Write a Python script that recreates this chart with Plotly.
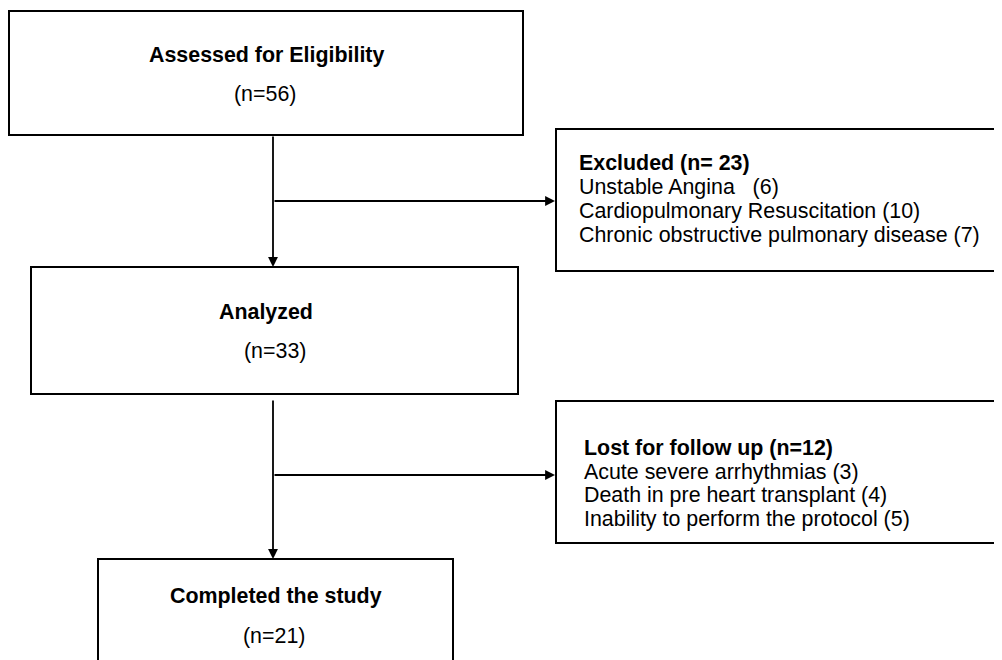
import plotly.graph_objects as go

# ---- Data ----
stages = ["Assessed for Eligibility", "Analyzed", "Completed the study"]
stage_n = [56, 33, 21]
excl_title = "Excluded (n= 23)"
excl_reasons = ["Unstable Angina", "Cardiopulmonary Resuscitation", "Chronic obstructive pulmonary disease"]
excl_counts = [6, 10, 7]
lost_title = "Lost for follow up (n=12)"
lost_reasons = ["Acute severe arrhythmias", "Death in pre heart transplant", "Inability to perform the protocol"]
lost_counts = [3, 4, 5]

# ---- Layout (page pixel coordinates) ----
main_boxes = [(9, 523, 11, 135), (31, 518, 267, 394), (98, 453, 559, 690)]
side_boxes = [(556, 1000, 129, 271), (556, 1000, 401, 543)]
FONT = "Liberation Sans, Arial, Helvetica, sans-serif"
FS = 21.4

fig = go.Figure()
shapes = []
for (x0, x1, y0, y1) in main_boxes + side_boxes:
    shapes.append(dict(type="rect", x0=x0, x1=x1, y0=y0, y1=y1, xref="x", yref="y",
                       line=dict(color="black", width=2), fillcolor="rgba(0,0,0,0)", layer="above"))

annotations = []
# connectors (tail -> head)
arrows = [((273, 135), (273, 267)), ((273, 201), (555, 201)),
          ((273, 399), (273, 559)), ((273, 475), (555, 475))]
for (sx, sy), (ex, ey) in arrows:
    annotations.append(dict(x=ex, y=ey, ax=sx, ay=sy, xref="x", yref="y",
                            axref="x", ayref="y", showarrow=True, arrowhead=2, arrowsize=1.1,
                            arrowwidth=1.8, arrowcolor="black", standoff=0, text=""))

# stage texts
title_y = [55, 312, 596]
n_y = [94, 351, 636]
cx = [266, 266, 276]
ncx = [265, 275, 274]
for i, s in enumerate(stages):
    annotations.append(dict(x=cx[i], y=title_y[i], xref="x", yref="y", text="<b>%s</b>" % s,
                            showarrow=False, font=dict(family=FONT, size=FS, color="black")))
    annotations.append(dict(x=ncx[i], y=n_y[i], xref="x", yref="y", text="(n=%d)" % stage_n[i],
                            showarrow=False, font=dict(family=FONT, size=FS, color="black")))


def side_text(x, y0, step, title, reasons, counts, gap):
    lines = ["<b>%s</b>" % title] + ["%s%s(%d)" % (r, gap[k], c) for k, (r, c) in enumerate(zip(reasons, counts))]
    for k, t in enumerate(lines):
        annotations.append(dict(x=x, y=y0 + k * step, xref="x", yref="y", text=t, xanchor="left",
                                showarrow=False, font=dict(family=FONT, size=FS, color="black")))


side_text(577, 163, 24, excl_title, excl_reasons, excl_counts, ["   ", " ", " "])
side_text(582, 448, 23.5, lost_title, lost_reasons, lost_counts, [" ", " ", " "])

# page body has an 8px margin: shift the axes so data coords equal page pixels
fig.update_layout(
    width=994, height=652, margin=dict(l=0, r=0, t=0, b=0),
    paper_bgcolor="white", plot_bgcolor="white",
    xaxis=dict(range=[8, 1002], visible=False, fixedrange=True),
    yaxis=dict(range=[660, 8], visible=False, fixedrange=True),
    shapes=shapes, annotations=annotations, showlegend=False,
)
fig.write_html("out.html")
